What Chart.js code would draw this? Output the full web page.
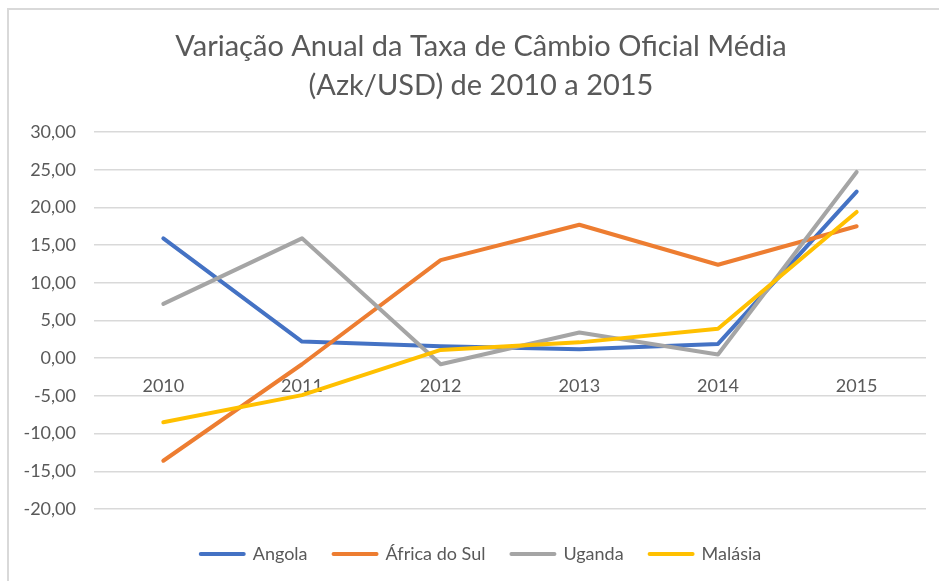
<!DOCTYPE html>
<html>
<head>
<meta charset="utf-8">
<script src="https://cdn.jsdelivr.net/npm/chart.js@4.4.1/dist/chart.umd.min.js"></script>
<style>
  html, body { margin: 0; padding: 0; background: #ffffff; }
  #wrap { position: relative; width: 939px; height: 581px; overflow: hidden; }
  #frame { position: absolute; left: 7px; top: 8px; right: -4px; bottom: -4px; border-top: 2px solid #d9d9d9; border-left: 2px solid #d9d9d9; pointer-events: none; }
  canvas { position: absolute; left: 0; top: 0; }
</style>
</head>
<body>
<div id="wrap">
  <canvas id="c" width="939" height="581"></canvas>
  <div id="frame"></div>
</div>
<script>
const titleLines = ["Variação Anual da Taxa de Câmbio Oficial Média", "(Azk/USD) de 2010 a 2015"];
const categories = ["2010", "2011", "2012", "2013", "2014", "2015"];
const seriesNames = ["Angola", "África do Sul", "Uganda", "Malásia"];
const angola = [15.9, 2.2, 1.6, 1.2, 1.9, 22.1];
const africaDoSul = [-13.6, -0.8, 13.0, 17.7, 12.4, 17.5];
const uganda = [7.2, 15.9, -0.8, 3.4, 0.5, 24.7];
const malasia = [-8.5, -4.9, 1.1, 2.1, 3.9, 19.4];
const seriesColors = ["#4472C4", "#ED7D31", "#A5A5A5", "#FFC000"];
const yMin = -20, yMax = 30, yStep = 5;

const seriesValues = [angola, africaDoSul, uganda, malasia];
const textColor = "#595959";
const fontFamily = "Lato, 'Open Sans', sans-serif";

const datasets = seriesNames.map((name, i) => ({
  label: name,
  data: seriesValues[i],
  xAxisID: 'x',
  yAxisID: 'y',
  borderColor: seriesColors[i],
  backgroundColor: seriesColors[i],
  borderWidth: 4,
  borderCapStyle: 'round',
  borderJoinStyle: 'round',
  pointRadius: 0,
  pointHoverRadius: 0,
  tension: 0,
  fill: false,
  order: seriesNames.length - i
}));

new Chart(document.getElementById('c'), {
  type: 'line',
  data: { labels: categories, datasets },
  options: {
    responsive: false,
    animation: false,
    devicePixelRatio: 1,
    layout: { padding: { left: 24, right: 1, top: 0, bottom: 8 } },
    plugins: {
      tooltip: { enabled: false },
      title: {
        display: true,
        text: titleLines,
        color: textColor,
        font: { family: fontFamily, size: 29, weight: 'normal', lineHeight: 1.345 },
        padding: { top: 27.5, bottom: 26.5 }
      },
      legend: {
        display: true,
        position: 'bottom',
        labels: {
          usePointStyle: true,
          pointStyle: 'line',
          pointStyleWidth: 43,
          padding: 26,
          color: textColor,
          font: { family: fontFamily, size: 18 },
          sort: (a, b) => a.datasetIndex - b.datasetIndex,
          generateLabels: (chart) => chart.data.datasets.map((ds, i) => ({
            text: ds.label,
            fillStyle: ds.borderColor,
            strokeStyle: ds.borderColor,
            lineWidth: 4,
            lineCap: 'round',
            pointStyle: 'line',
            fontColor: textColor,
            hidden: false,
            datasetIndex: i
          }))
        }
      }
    },
    scales: {
      x: {
        type: 'category',
        position: { y: 0 },
        offset: true,
        grid: { display: false, drawTicks: false },
        border: { display: false },
        ticks: {
          color: textColor,
          font: { family: fontFamily, size: 18 },
          padding: 17,
          maxRotation: 0,
          autoSkip: false
        }
      },
      y: {
        type: 'linear',
        position: 'left',
        min: yMin,
        max: yMax,
        grid: { color: '#d9d9d9', lineWidth: 1.5, drawTicks: false },
        border: { display: false },
        afterFit: (s) => { s.width = 70; },
        ticks: {
          stepSize: yStep,
          color: textColor,
          padding: 18,
          font: { family: fontFamily, size: 18 },
          callback: (v) => v.toFixed(2).replace('.', ',')
        }
      },
      xpad: {
        type: 'category',
        axis: 'x',
        position: 'bottom',
        display: true,
        grid: { display: false, drawTicks: false },
        border: { display: false },
        ticks: { display: false },
        afterFit: (s) => { s.height = 10; }
      },
      ypad: {
        type: 'linear',
        axis: 'y',
        position: 'right',
        display: true,
        min: yMin,
        max: yMax,
        grid: { display: false, drawTicks: false },
        border: { display: false },
        ticks: { display: false },
        afterFit: (s) => { s.width = 12; }
      }
    }
  }
});
</script>
</body>
</html>
